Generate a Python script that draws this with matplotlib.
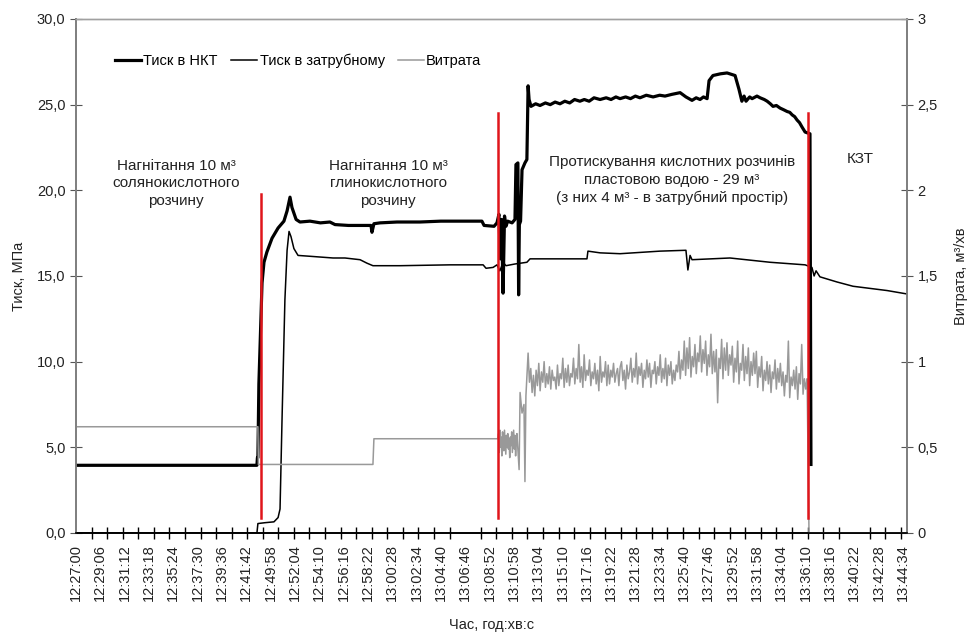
import numpy as np
import matplotlib.pyplot as plt

plt.rcParams['font.family'] = ['Liberation Sans', 'DejaVu Sans']

# підписи осі часу (кожна поділка = одна позиція по x)
time_labels = ['12:27:00', '12:29:06', '12:31:12', '12:33:18', '12:35:24', '12:37:30',
               '12:39:36', '12:41:42', '12:49:58', '12:52:04', '12:54:10', '12:56:16',
               '12:58:22', '13:00:28', '13:02:34', '13:04:40', '13:06:46', '13:08:52',
               '13:10:58', '13:13:04', '13:15:10', '13:17:16', '13:19:22', '13:21:28',
               '13:23:34', '13:25:40', '13:27:46', '13:29:52', '13:31:58', '13:34:04',
               '13:36:10', '13:38:16', '13:40:22', '13:42:28', '13:44:34']

# Тиск в НКТ, МПа
nkt_x = [0, 7.44, 7.46, 7.48, 7.52, 7.65, 7.73, 7.85, 8.06, 8.31, 8.55, 8.68, 8.80, 8.88,
         9.05, 9.21, 9.62, 10.05, 10.44, 10.65, 11.2, 11.88, 12.13, 12.17, 12.25, 12.5,
         13.2, 14.14, 15.0, 15.79, 16.69, 16.78, 17.19, 17.31, 17.39, 17.45, 17.50, 17.56,
         17.62, 17.68, 17.75, 17.93, 18.05, 18.09, 18.17, 18.20, 18.23, 18.28, 18.34, 18.46,
         18.54, 18.59, 18.63, 18.71, 18.9, 19.08, 19.3, 19.5, 19.7, 19.9, 20.1, 20.3, 20.5,
         20.72, 20.9, 21.1, 21.3, 21.55, 21.8, 22.0, 22.2, 22.37, 22.6, 22.8, 23.0, 23.19,
         23.45, 23.73, 24.0, 24.22, 24.5, 24.84, 25.08, 25.33, 25.5, 25.66, 25.8, 25.95,
         26.03, 26.19, 26.5, 26.77, 27.1, 27.26, 27.38, 27.47, 27.55, 27.7, 27.8, 28.0,
         28.13, 28.3, 28.42, 28.55, 28.66, 28.8, 28.95, 29.1, 29.24, 29.35, 29.45, 29.55,
         29.65, 29.75, 29.85, 29.98, 30.18, 30.22]
nkt_y = [3.95, 3.95, 4.4, 4.4, 8.7, 14.6, 15.8, 16.4, 17.2, 17.8, 18.2, 18.8, 19.6, 19.0,
         18.3, 18.15, 18.2, 18.1, 18.15, 18.0, 17.95, 17.95, 17.95, 17.55, 18.05, 18.1,
         18.15, 18.15, 18.2, 18.2, 18.2, 17.95, 17.9, 18.1, 18.6, 16.0, 18.3, 14.0,
         18.5, 17.9, 18.2, 18.1, 18.3, 21.5, 21.6, 13.9, 18.0, 18.2, 21.2, 21.6,
         21.8, 26.1, 25.3, 24.9, 25.05, 24.95, 25.1, 25.0, 25.15, 25.05, 25.2, 25.1, 25.3,
         25.2, 25.3, 25.2, 25.4, 25.3, 25.4, 25.3, 25.45, 25.35, 25.45, 25.35, 25.5, 25.4,
         25.55, 25.45, 25.55, 25.5, 25.6, 25.7, 25.45, 25.25, 25.4, 25.3, 25.45, 25.35,
         26.4, 26.7, 26.8, 26.85, 26.7, 25.9, 25.2, 25.5, 25.2, 25.45, 25.35, 25.5,
         25.4, 25.3, 25.2, 25.05, 24.9, 24.95, 24.8, 24.7, 24.6, 24.55, 24.4, 24.3,
         24.1, 23.95, 23.7, 23.4, 23.3, 4.0]

# Тиск в затрубному, МПа
zat_x = [0, 7.44, 7.48, 7.77, 8.14, 8.31, 8.39, 8.47, 8.59, 8.68, 8.76, 8.84, 8.96, 9.13,
         9.62, 10.57, 11.06, 11.68, 11.96, 12.21, 13.32, 15.38, 16.74, 16.86, 17.15, 17.31,
         17.43, 17.56, 17.68, 18.05, 18.54, 18.67, 19.9, 21.01, 21.05, 21.55, 22.37, 24.01,
         25.08, 25.16, 25.25, 25.33, 26.89, 28.54, 29.98, 30.26, 30.35, 30.43, 30.59, 31.29,
         31.95, 33.35, 34.17]
zat_y = [0, 0, 0.55, 0.6, 0.65, 0.9, 1.4, 6.5, 13.6, 16.5, 17.6, 17.3, 16.6, 16.2,
         16.15, 16.05, 16.05, 15.95, 15.75, 15.6, 15.6, 15.65, 15.65, 15.45, 15.5, 15.65,
         15.3, 15.8, 15.6, 15.7, 15.8, 16.0, 16.0, 16.0, 16.45, 16.35, 16.3, 16.45,
         16.5, 15.35, 16.2, 15.95, 16.05, 15.8, 15.65, 15.5, 15.0, 15.3, 14.95, 14.65,
         14.4, 14.15, 13.95]

# Витрата, м3/хв
flow_start_x = [0, 7.48, 7.50, 12.21, 12.25, 17.30]
flow_start_y = [0.62, 0.62, 0.40, 0.40, 0.55, 0.55]
flow_noise1 = [0.55, 0.58, 0.47, 0.60, 0.50, 0.56, 0.45, 0.59, 0.52, 0.48,
               0.60, 0.53, 0.46, 0.57, 0.50, 0.58, 0.49, 0.55, 0.44, 0.56,
               0.51, 0.59, 0.47, 0.54, 0.60, 0.49, 0.57, 0.45, 0.53, 0.58]
flow_mid_x = [18.22, 18.26, 18.34, 18.42, 18.46, 18.50]
flow_mid_y = [0.37, 0.82, 0.70, 0.75, 0.30, 0.80]
flow_noise2 = [1.05, 0.88, 0.96, 0.82, 0.92, 0.80, 0.95, 0.86, 0.99, 0.83,
               0.94, 0.88, 1.00, 0.85, 0.93, 0.87, 0.97, 0.84, 0.95, 0.89,
               0.91, 0.84, 0.98, 0.86, 0.93, 0.90, 1.02, 0.85, 0.96, 0.88,
               0.98, 0.86, 0.93, 0.91, 1.02, 0.87, 0.96, 0.90, 1.10, 0.88,
               0.97, 0.85, 1.04, 0.89, 0.95, 0.92, 1.01, 0.86, 0.94, 0.90,
               0.99, 0.87, 0.95, 0.83, 1.03, 0.88, 0.94, 0.91, 1.00, 0.86,
               0.98, 0.87, 0.95, 0.91, 0.99, 0.88, 0.93, 0.96, 0.86, 0.97,
               1.00, 0.89, 0.95, 0.84, 0.98, 0.90, 0.94, 1.02, 0.88, 0.96,
               0.91, 1.05, 0.87, 0.97, 0.92, 0.99, 0.85, 0.95, 0.90, 1.01,
               0.91, 0.99, 0.85, 0.95, 0.93, 1.00, 0.87, 0.97, 0.92, 1.04,
               0.88, 0.96, 0.90, 1.02, 0.86, 0.98, 0.92, 1.00, 0.87, 0.95,
               0.89, 0.98, 0.94, 1.06, 0.90, 1.01, 0.95, 1.12, 0.92, 1.08,
               0.96, 1.14, 0.91, 1.03, 0.97, 1.10, 0.93, 1.05, 1.00, 1.15,
               0.94, 1.07, 0.99, 1.12, 0.92, 1.04, 0.97, 1.16, 0.93, 1.06,
               0.94, 1.07, 0.76, 1.02, 0.96, 1.13, 0.90, 1.08, 0.95, 1.11,
               0.92, 1.04, 0.98, 1.09, 0.88, 1.02, 0.94, 1.12, 0.87, 0.99,
               0.95, 1.10, 0.89, 1.03, 0.93, 1.08, 0.86, 1.00, 0.92, 1.05,
               0.93, 1.06, 0.85, 0.97, 0.91, 1.03, 0.83, 0.95, 0.89, 1.00,
               0.87, 0.98, 0.82, 0.94, 0.90, 1.01, 0.84, 0.96, 0.88, 0.99,
               0.86, 0.94, 0.80, 0.92, 0.88, 1.12, 0.79, 0.91, 0.86, 0.95,
               0.84, 0.97, 0.78, 0.93, 0.87, 1.10, 0.81, 0.90, 0.84, 0.90]
flow_end_x = [30.14, 34.17]
flow_end_y = [0.0, 0.0]

# межі етапів (червоні лінії)
stage_x = [7.61, 17.35, 30.10]
stage_top = [19.8, 24.5, 24.5]
stage_bottom = 0.9

stage_text = ['Нагнітання 10 м³\nсолянокислотного\nрозчину',
              'Нагнітання 10 м³\nглинокислотного\nрозчину',
              'Протискування кислотних розчинів\nпластовою водою - 29 м³\n(з них 4 м³ - в затрубний простір)',
              'КЗТ']
stage_text_x = [4.11, 12.83, 24.5, 32.24]
stage_text_y = [20.4, 20.4, 20.6, 21.8]

flow_x = np.concatenate([flow_start_x,
                         np.linspace(17.35, 18.13, len(flow_noise1)),
                         flow_mid_x,
                         np.linspace(18.59, 30.06, len(flow_noise2)),
                         flow_end_x])
flow_y = np.concatenate([flow_start_y, flow_noise1, flow_mid_y, flow_noise2, flow_end_y])

fig = plt.figure(figsize=(9.68, 6.37), dpi=100)
ax = fig.add_axes([0.0785, 0.1633, 0.8585, 0.8069])
ax2 = ax.twinx()

l1, = ax.plot(nkt_x, nkt_y, color='black', lw=2.3, label='Тиск в НКТ', zorder=3)
l2, = ax.plot(zat_x, zat_y, color='black', lw=1.1, label='Тиск в затрубному', zorder=3)
l3, = ax2.plot(flow_x, flow_y, color='#999999', lw=1.1, label='Витрата', zorder=2)

for x, top in zip(stage_x, stage_top):
    ax2.plot([x, x], [stage_bottom, top], color='#e0151b', lw=1.8,
             transform=ax.transData, zorder=5)

for x, y, t in zip(stage_text_x, stage_text_y, stage_text):
    ax2.text(x, y, t, transform=ax.transData, ha='center', va='center',
             fontsize=11, color='#222222', linespacing=1.3)

ax.set_xlim(0, 34.17)
ax.set_ylim(0, 30)
ax2.set_ylim(0, 3)

ax.set_xticks(range(len(time_labels)))
ax.set_xticklabels(time_labels, rotation=90, fontsize=10.5, color='#222222')
ax.set_xticks(np.arange(0, 34.2, 0.64), minor=True)
ax.tick_params(axis='x', which='major', length=0, pad=8)
ax.tick_params(axis='x', which='minor', length=8, direction='inout', width=1, color='black')

left_ticks = [0, 5, 10, 15, 20, 25, 30]
ax.set_yticks(left_ticks)
ax.set_yticklabels([f'{v:.1f}'.replace('.', ',') for v in left_ticks],
                   fontsize=10.5, color='#222222')
ax.tick_params(axis='y', length=8, direction='inout', color='#555555')

right_ticks = [0, 0.5, 1, 1.5, 2, 2.5, 3]
ax2.set_yticks(right_ticks)
ax2.set_yticklabels(['0', '0,5', '1', '1,5', '2', '2,5', '3'], fontsize=10.5, color='#222222')
ax2.tick_params(axis='y', length=8, direction='inout', color='#555555')

for a in (ax, ax2):
    a.spines['left'].set_color('#808080')
    a.spines['right'].set_color('#808080')
    a.spines['left'].set_linewidth(1.3)
    a.spines['right'].set_linewidth(1.3)
    a.spines['top'].set_color('#a0a0a0')
    a.spines['top'].set_linewidth(1.0)
    a.spines['bottom'].set_color('black')
    a.spines['bottom'].set_linewidth(1.2)

ax.set_ylabel('Тиск, МПа', fontsize=10.5, color='#222222', labelpad=8)
ax2.set_ylabel('Витрата, м³/хв', fontsize=10.5, color='#222222', labelpad=12)
ax.set_xlabel('Час, год:хв:с', fontsize=10.5, color='#222222', labelpad=12)

ax2.legend(handles=[l1, l2, l3], loc='center left', bbox_to_anchor=(0.047, 0.918),
           ncol=3, frameon=False, fontsize=10.5, handlelength=1.8,
           handletextpad=0.15, columnspacing=0.9, borderaxespad=0, borderpad=0)

fig.savefig('out.png', dpi=100)
